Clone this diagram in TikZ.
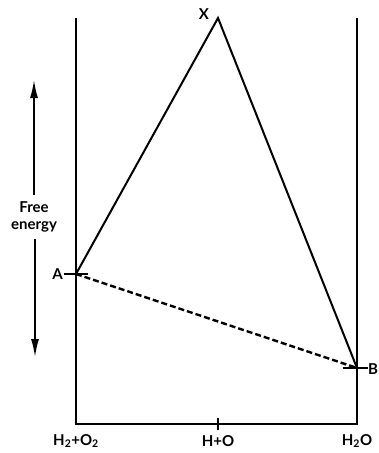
\documentclass[tikz,border=0pt]{standalone}
\usepackage{fontspec}
\setmainfont{Lato}
\usetikzlibrary{arrows.meta}
\tikzset{
  axis/.style={line width=2.4pt},
  link/.style={line width=2pt},
  dashlink/.style={line width=2.4pt, dash pattern=on 6pt off 3pt},
  lbl/.style={font=\fontsize{15}{17}\selectfont\bfseries, inner sep=1pt},
  tickmark/.style={line width=2.2pt},
  fe/.style={line width=1.6pt, -{Latex[length=18pt,width=8pt]}}
}
\begin{document}
\begin{tikzpicture}[x=1pt,y=-1pt]
\useasboundingbox (0,0) rectangle (379,453);
% frame
\coordinate (LT) at (76,18);
\coordinate (LB) at (76,424);
\coordinate (RT) at (357,18);
\coordinate (RB) at (357,424);
\coordinate (MB) at (218,424);
\draw[axis] (LT) -- (LB) -- (RB) -- (RT);
\draw[tickmark] (218,418) -- (218,430);
% points
\coordinate (A) at (76,274);
\coordinate (B) at (357,368);
\coordinate (X) at (218,18);
\draw[tickmark] (64,274) -- (88,274);
\draw[tickmark] (343,368) -- (368,368);
\draw[link] (A) -- (X) -- (B);
\draw[dashlink] (A) -- (B);
% labels
\node[lbl, anchor=east] (la) at (64,274) {A};
\node[lbl, anchor=west] (lb) at (367,369) {B};
\node[lbl] (lx) at (204,14) {X};
\node[lbl] (l1) at (76,441) {H\textsubscript{2}+O\textsubscript{2}};
\node[lbl] (l2) at (218,441) {H+O};
\node[lbl] (l3) at (357,441) {H\textsubscript{2}O};
% free energy
\node[font=\fontsize{15}{17}\selectfont\bfseries, align=center, inner sep=1pt] (fe) at (34,217) {Free\\energy};
\coordinate (feu) at (34,80);
\coordinate (fed) at (35,357);
\draw[fe] (fe.north) ++(0,-6) -- (feu);
\draw[fe] (fe.south) ++(1,6) -- (fed);
\end{tikzpicture}
\end{document}
